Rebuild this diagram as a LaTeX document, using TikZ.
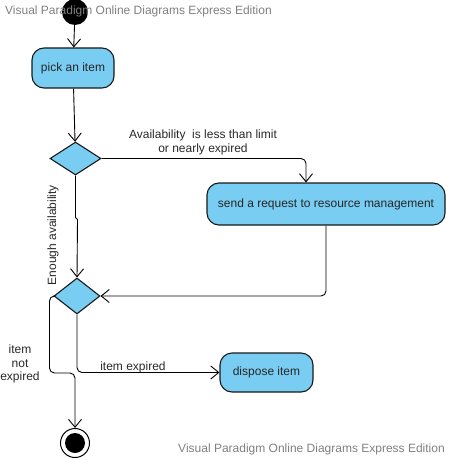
\documentclass[tikz,border=0pt]{standalone}
\usepackage{fontspec}
\setmainfont{Liberation Sans}
\usetikzlibrary{arrows.meta,shapes.geometric}
\definecolor{boxfill}{RGB}{122,205,242}
\definecolor{wm}{RGB}{128,128,128}
\definecolor{lbl}{RGB}{40,40,40}
\begin{document}
\begin{tikzpicture}[x=1pt,y=-1pt,
  every node/.style={font=\fontsize{12}{14}\selectfont},
  action/.style={draw=black!90, line width=1.1pt, fill=boxfill, rounded corners=12pt, inner sep=0pt, text=black!85},
  decision/.style={draw=black!90, line width=1.1pt, fill=boxfill, diamond, inner sep=0pt},
  flow/.style={draw=black, line width=0.9pt, rounded corners=5pt, -{Straight Barb[length=8pt,width=13pt,line width=0.9pt]}},
  guard/.style={text=lbl, align=center, inner sep=0pt},
  watermark/.style={text=wm, inner sep=0pt}]
\useasboundingbox (0,0) rectangle (448,460);
% nodes
\node[circle, fill=black, minimum size=26pt, inner sep=0pt] (start) at (75,12) {};
\node[action, minimum width=82pt, minimum height=40pt] (pick) at (73,68) {pick an item};
\node[decision, minimum width=51pt, minimum height=33pt] (d1) at (75.5,158.5) {};
\node[action, minimum width=238pt, minimum height=42pt] (send) at (326,204) {send a request to resource management};
\node[decision, minimum width=46pt, minimum height=36pt] (d2) at (77,296) {};
\node[action, minimum width=93pt, minimum height=39pt] (dispose) at (266.5,372.5) {dispose item};
\node[circle, draw=black, line width=1pt, minimum size=29pt, inner sep=0pt] (final) at (75,443) {};
\fill[black] (final.center) circle (10pt);
% connectors
\draw[flow] (start) -- (pick);
\draw[flow] (pick) -- (d1);
\draw[flow] (d1.east) -| ([xshift=-20pt]send.north);
\draw[flow, rounded corners=0pt] (d1.south) -- ([yshift=-42pt]d1.south) -- ([yshift=-44pt,xshift=2pt]d1.south) -- (d2.north);
\draw[flow] (send.south) |- (d2.east);
\draw[flow] (d2.west) -- ([xshift=-4pt]d2.west) |- ([yshift=55pt]final.north) -- (final.north);
\draw[flow] (d2.south) |- (dispose.west);
% guards
\node[guard] (g1) at (203,142) {Availability\ \ is less than limit\\or nearly expired};
\node[guard, rotate=90] (g2) at (53,235) {Enough availability};
\node[guard] (g3) at (133,367) {item expired};
\node[guard, font=\fontsize{12}{13.5}\selectfont] (g4) at (20,364) {item\\not\\expired};
% watermarks
\node[watermark, anchor=west] (w1) at (5,11) {Visual Paradigm Online Diagrams Express Edition};
\node[watermark, anchor=east] (w2) at (445,449) {Visual Paradigm Online Diagrams Express Edition};
\end{tikzpicture}
\end{document}
